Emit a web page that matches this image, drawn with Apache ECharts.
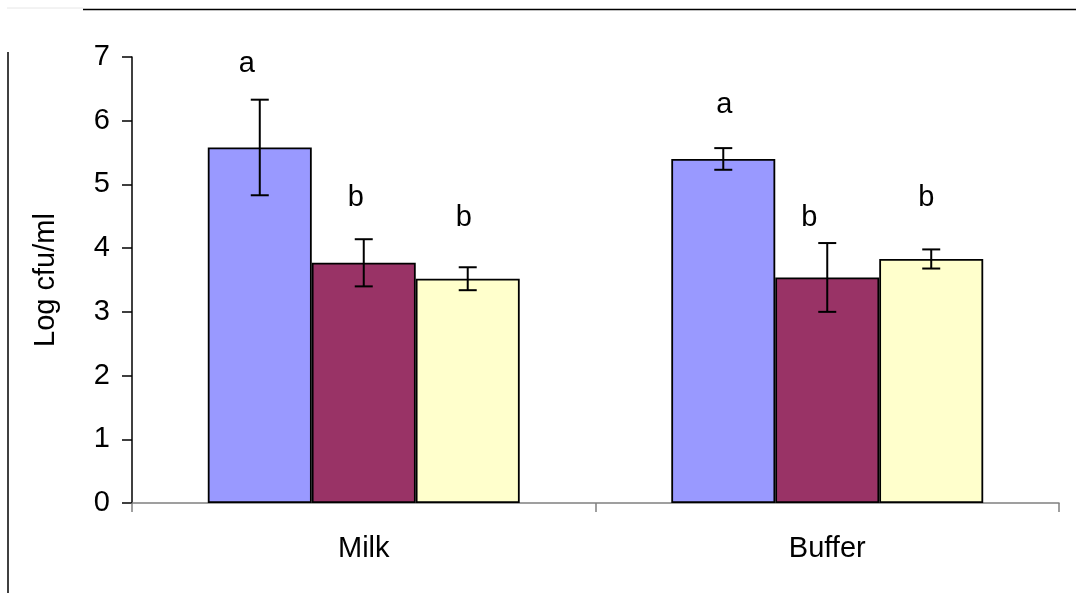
<!DOCTYPE html>
<html>
<head>
<meta charset="utf-8">
<title>Log cfu/ml</title>
<script src="https://cdn.jsdelivr.net/npm/echarts@6/dist/echarts.min.js"></script>
<style>
  html, body { margin: 0; padding: 0; background: #ffffff; }
  #chart { width: 1076px; height: 593px; }
</style>
</head>
<body>
<div id="chart"></div>
<script>
// Categories and tick labels
const categories = ['Milk', 'Buffer'];
const yTicks = [0, 1, 2, 3, 4, 5, 6, 7];

// Mean values (log cfu/ml) for the three treatments
const meansA = [5.58, 5.40];
const meansB = [3.77, 3.54];
const meansC = [3.52, 3.83];

// Error bar half-widths
const errA = [0.75, 0.17];
const errB = [0.37, 0.54];
const errC = [0.18, 0.15];

// Significance letters and the heights they sit at
const lettersA = ['a', 'a'];
const lettersB = ['b', 'b'];
const lettersC = ['b', 'b'];
const levelsA = [6.89, 6.25];
const levelsB = [4.79, 4.48];
const levelsC = [4.48, 4.79];

const FONT = "'Liberation Sans', Arial, sans-serif";
const CAT_GAP = 0.327;
const colors = ['#9999FF', '#993366', '#FFFFCC'];

// Hand-placed letters sit a little off the bar centres (pixels)
const letterNudge = [[-13, 1], [-8, -18], [-4, -5]];

const groups = [
  { name: 'A', means: meansA, err: errA, letters: lettersA, levels: levelsA },
  { name: 'B', means: meansB, err: errB, letters: lettersB, levels: levelsB },
  { name: 'C', means: meansC, err: errC, letters: lettersC, levels: levelsC }
];

function errorRenderer(k, g) {
  return function (params, api) {
    const idx = api.value(0);
    const v = api.value(1);
    const e = api.value(2);
    const lvl = api.value(3);
    const band = api.size([1, 0])[0];
    const barW = band * (1 - CAT_GAP) / 3;
    const cx = api.coord([idx, v])[0] + (k - 1) * barW;
    const yTop = api.coord([idx, v + e])[1];
    const yBot = api.coord([idx, v - e])[1];
    const yLetter = api.coord([idx, lvl])[1];
    const cap = 9;
    const ls = { stroke: '#000', lineWidth: 2 };
    return {
      type: 'group',
      children: [
        { type: 'line', shape: { x1: cx, y1: yTop, x2: cx, y2: yBot }, style: ls },
        { type: 'line', shape: { x1: cx - cap, y1: yTop, x2: cx + cap, y2: yTop }, style: ls },
        { type: 'line', shape: { x1: cx - cap, y1: yBot, x2: cx + cap, y2: yBot }, style: ls },
        {
          type: 'text',
          style: {
            x: cx + letterNudge[k][params.dataIndex], y: yLetter,
            text: g.letters[params.dataIndex],
            fill: '#000',
            font: '29px ' + FONT,
            align: 'center',
            verticalAlign: 'middle'
          }
        }
      ]
    };
  };
}

const series = [];
groups.forEach(function (g, k) {
  series.push({
    name: 'Series ' + g.name,
    type: 'bar',
    data: g.means,
    barGap: '0%',
    barCategoryGap: (CAT_GAP * 100) + '%',
    itemStyle: { color: colors[k], borderColor: '#000', borderWidth: 1.8 },
    emphasis: { disabled: true },
    animation: false
  });
});
groups.forEach(function (g, k) {
  series.push({
    name: 'Error ' + g.name,
    type: 'custom',
    z: 5,
    renderItem: errorRenderer(k, g),
    data: g.means.map(function (m, i) { return [i, m, g.err[i], g.levels[i]]; }),
    animation: false,
    silent: true
  });
});

const chart = echarts.init(document.getElementById('chart'), null, { renderer: 'canvas' });
chart.setOption({
  backgroundColor: '#ffffff',
  animation: false,
  textStyle: { fontFamily: FONT },
  grid: { left: 132, right: 17, top: 57, bottom: 90, containLabel: false },
  xAxis: {
    type: 'category',
    data: categories,
    axisLine: { lineStyle: { color: '#808080', width: 1.5 } },
    axisTick: { show: true, length: 9, lineStyle: { color: '#808080', width: 1.5 } },
    axisLabel: { color: '#000', fontSize: 29, fontFamily: FONT, margin: 31 },
    splitLine: { show: false }
  },
  yAxis: {
    type: 'value',
    min: yTicks[0],
    max: yTicks[yTicks.length - 1],
    interval: 1,
    name: 'Log cfu/ml',
    nameLocation: 'middle',
    nameGap: 72,
    nameRotate: 90,
    nameTextStyle: { color: '#000', fontSize: 29, fontFamily: FONT },
    axisLine: { show: true, lineStyle: { color: '#000', width: 1.5 } },
    axisTick: { show: true, length: 10, lineStyle: { color: '#000', width: 1.5 } },
    axisLabel: { color: '#000', fontSize: 29, fontFamily: FONT, margin: 22 },
    splitLine: { show: false }
  },
  graphic: [
    { type: 'line', shape: { x1: 7, y1: 8, x2: 83, y2: 8 }, style: { stroke: '#e6e6e6', lineWidth: 1 } },
    { type: 'line', shape: { x1: 83, y1: 9.5, x2: 1076, y2: 9.5 }, style: { stroke: '#000', lineWidth: 1.5 } },
    { type: 'line', shape: { x1: 8, y1: 52, x2: 8, y2: 593 }, style: { stroke: '#000', lineWidth: 1.5 } }
  ],
  series: series
});
</script>
</body>
</html>
